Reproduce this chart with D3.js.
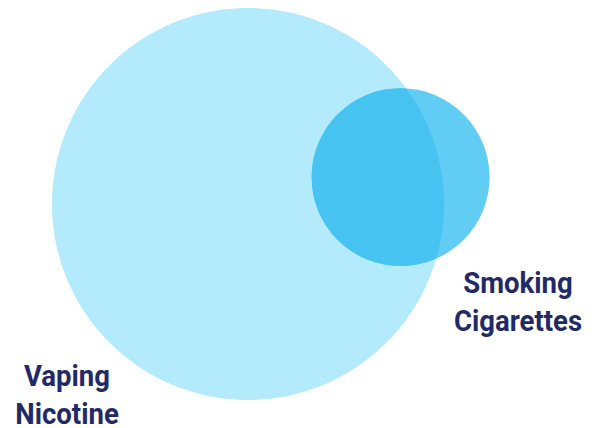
<!DOCTYPE html>
<html>
<head>
<meta charset="utf-8">
<script src="https://cdn.jsdelivr.net/npm/d3@7"></script>
<style>
  html, body { margin: 0; padding: 0; background: #fff; }
  svg { display: block; }
  .label { font-family: Roboto, "Liberation Sans", sans-serif; font-weight: 700; fill: #1f2a66; }
</style>
</head>
<body>
<div id="chart"></div>
<script>
// set sizes (relative areas)
const setNames = ["Vaping Nicotine", "Smoking Cigarettes"];
const setSizes = [100, 20.6];
const overlapSize = 15.3;
const labelLines = [["Vaping", "Nicotine"], ["Smoking", "Cigarettes"]];

const width = 603, height = 428;

const svg = d3.select("#chart")
    .append("svg")
    .attr("width", width)
    .attr("height", height);

// radius from area
const r = d3.scaleSqrt().domain([0, 100]).range([0, 196]);
const radii = setSizes.map(d => r(d));

// area of the lens between two circles at distance d
function lensArea(r1, r2, d) {
    if (d >= r1 + r2) return 0;
    if (d <= Math.abs(r1 - r2)) return Math.PI * Math.min(r1, r2) ** 2;
    const a = r1 * r1 * Math.acos((d * d + r1 * r1 - r2 * r2) / (2 * d * r1));
    const b = r2 * r2 * Math.acos((d * d + r2 * r2 - r1 * r1) / (2 * d * r2));
    const c = 0.5 * Math.sqrt((-d + r1 + r2) * (d + r1 - r2) * (d - r1 + r2) * (d + r1 + r2));
    return a + b - c;
}

// find the centre distance that gives the overlap area (bisection)
const targetArea = Math.PI * r(overlapSize) ** 2;
let lo = Math.abs(radii[0] - radii[1]), hi = radii[0] + radii[1];
for (let i = 0; i < 60; i++) {
    const mid = (lo + hi) / 2;
    if (lensArea(radii[0], radii[1], mid) > targetArea) lo = mid; else hi = mid;
}
const dist = (lo + hi) / 2;

const angle = -10 * Math.PI / 180;
const c0 = [248, 204];
const circles = [
    { name: setNames[0], cx: c0[0], cy: c0[1], r: radii[0], fill: "#b3eafc" },
    { name: setNames[1], cx: c0[0] + dist * Math.cos(angle), cy: c0[1] + dist * Math.sin(angle), r: radii[1], fill: "#62cdf4" }
];

svg.append("defs").append("clipPath")
    .attr("id", "clip-big")
    .append("circle")
    .attr("cx", circles[0].cx)
    .attr("cy", circles[0].cy)
    .attr("r", circles[0].r);

svg.selectAll("circle.set")
    .data(circles)
    .enter()
    .append("circle")
    .attr("class", "set")
    .attr("cx", d => d.cx)
    .attr("cy", d => d.cy)
    .attr("r", d => d.r)
    .attr("fill", d => d.fill);

// intersection
svg.append("circle")
    .attr("clip-path", "url(#clip-big)")
    .attr("cx", circles[1].cx)
    .attr("cy", circles[1].cy)
    .attr("r", circles[1].r)
    .attr("fill", "#47c3f2");

// labels (slightly condensed)
const labelPos = [[67, 385.5, 39], [518, 293, 38.5]];
const labels = svg.selectAll("g.label-g")
    .data(labelLines)
    .enter()
    .append("g")
    .attr("class", "label-g")
    .attr("transform", (d, i) => `translate(${labelPos[i][0]},${labelPos[i][1]}) scale(0.95,1)`)
    .append("text")
    .attr("class", "label")
    .attr("text-anchor", "middle")
    .attr("font-size", 29);

labels.selectAll("tspan")
    .data((d, i) => d.map(t => ({ t, step: labelPos[i][2] })))
    .enter()
    .append("tspan")
    .attr("x", 0)
    .attr("dy", (d, i) => i === 0 ? 0 : d.step)
    .text(d => d.t);
</script>
</body>
</html>
